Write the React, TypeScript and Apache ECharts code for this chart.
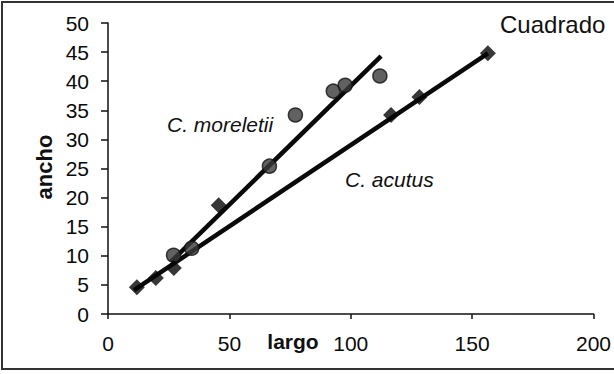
import React, { useEffect, useRef } from "react";
import * as echarts from "echarts";

// C. moreletii (circles): [largo, ancho]
const moreletiiPoints: [number, number][] = [
  [27, 10.1],
  [34.5, 11.3],
  [66.5, 25.4],
  [77.2, 34.2],
  [92.8, 38.3],
  [97.7, 39.3],
  [112, 40.9],
];
// C. acutus (diamonds)
const acutusPoints: [number, number][] = [
  [11.9, 4.6],
  [19.7, 6.2],
  [27.1, 7.9],
  [45.6, 18.7],
  [116.6, 34.2],
  [128.3, 37.3],
  [156.5, 44.8],
];
// trend lines (end points)
const moreletiiTrend: [number, number][] = [
  [26, 9.0],
  [112.5, 44.3],
];
const acutusTrend: [number, number][] = [
  [10.7, 4.1],
  [156.5, 44.8],
];

const xTicks = { min: 0, max: 200, interval: 50 };
const yTicks = { min: 0, max: 50, interval: 5 };

const FONT = "'Liberation Sans', Arial, sans-serif";

export default function App() {
  const ref = useRef<HTMLDivElement>(null);
  useEffect(() => {
    if (!ref.current) return;
    const chart = echarts.init(ref.current, undefined, { renderer: "svg" });
    chart.setOption({
      animation: false,
      backgroundColor: "#ffffff",
      grid: { left: 108, right: 18, top: 23, bottom: 60 },
      xAxis: {
        type: "value",
        min: xTicks.min,
        max: xTicks.max,
        interval: xTicks.interval,
        splitLine: { show: false },
        axisLine: { lineStyle: { color: "#111", width: 1.5 } },
        axisTick: { length: 5, lineStyle: { color: "#111", width: 1.5 } },
        axisLabel: { margin: 19, color: "#0a0a0a", fontSize: 21, fontFamily: FONT },
      },
      yAxis: {
        type: "value",
        min: yTicks.min,
        max: yTicks.max,
        interval: yTicks.interval,
        splitLine: { show: false },
        axisLine: { show: true, lineStyle: { color: "#111", width: 1.5 } },
        axisTick: { show: true, length: 7, lineStyle: { color: "#111", width: 1.5 } },
        axisLabel: { margin: 19, color: "#0a0a0a", fontSize: 21, fontFamily: FONT },
      },
      series: [
        {
          type: "line",
          data: moreletiiTrend,
          symbol: "none",
          lineStyle: { color: "#0a0a0a", width: 4.5 },
          z: 3,
        },
        {
          type: "line",
          data: acutusTrend,
          symbol: "none",
          lineStyle: { color: "#0a0a0a", width: 4.5 },
          z: 3,
        },
        {
          type: "scatter",
          data: moreletiiPoints,
          symbol: "circle",
          symbolSize: 14,
          itemStyle: { color: "#3a3a3a", borderColor: "#111", borderWidth: 1.5 },
          z: 4,
        },
        {
          type: "scatter",
          data: acutusPoints,
          symbol: "diamond",
          symbolSize: 16,
          itemStyle: { color: "#050505" },
          z: 4,
        },
      ],
      graphic: [
        {
          type: "rect",
          shape: { x: 2, y: 2, width: 620, height: 367 },
          style: { fill: "none", stroke: "#333", lineWidth: 2 },
          silent: true,
        },
        {
          type: "text",
          x: 500,
          y: 24,
          style: {
            text: "Cuadrado",
            font: `24px ${FONT}`,
            fill: "#111",
            verticalAlign: "middle",
            align: "left",
          },
        },
        {
          type: "text",
          x: 167,
          y: 124,
          style: {
            text: "C. moreletii",
            font: `italic 21px ${FONT}`,
            fill: "#111",
            verticalAlign: "middle",
            align: "left",
          },
        },
        {
          type: "text",
          x: 345,
          y: 179,
          style: {
            text: "C. acutus",
            font: `italic 21px ${FONT}`,
            fill: "#111",
            verticalAlign: "middle",
            align: "left",
          },
        },
        {
          type: "text",
          x: 293,
          y: 341,
          style: {
            text: "largo",
            font: `bold 21px ${FONT}`,
            fill: "#111",
            verticalAlign: "middle",
            align: "center",
          },
        },
        {
          type: "text",
          x: 44,
          y: 167,
          rotation: Math.PI / 2,
          style: {
            text: "ancho",
            font: `bold 22px ${FONT}`,
            fill: "#111",
            verticalAlign: "middle",
            align: "center",
          },
        },
      ],
    });
    return () => chart.dispose();
  }, []);
  return (
    <div
      ref={ref}
      style={{ position: "fixed", left: 0, top: 0, width: 614, height: 374 }}
    />
  );
}
